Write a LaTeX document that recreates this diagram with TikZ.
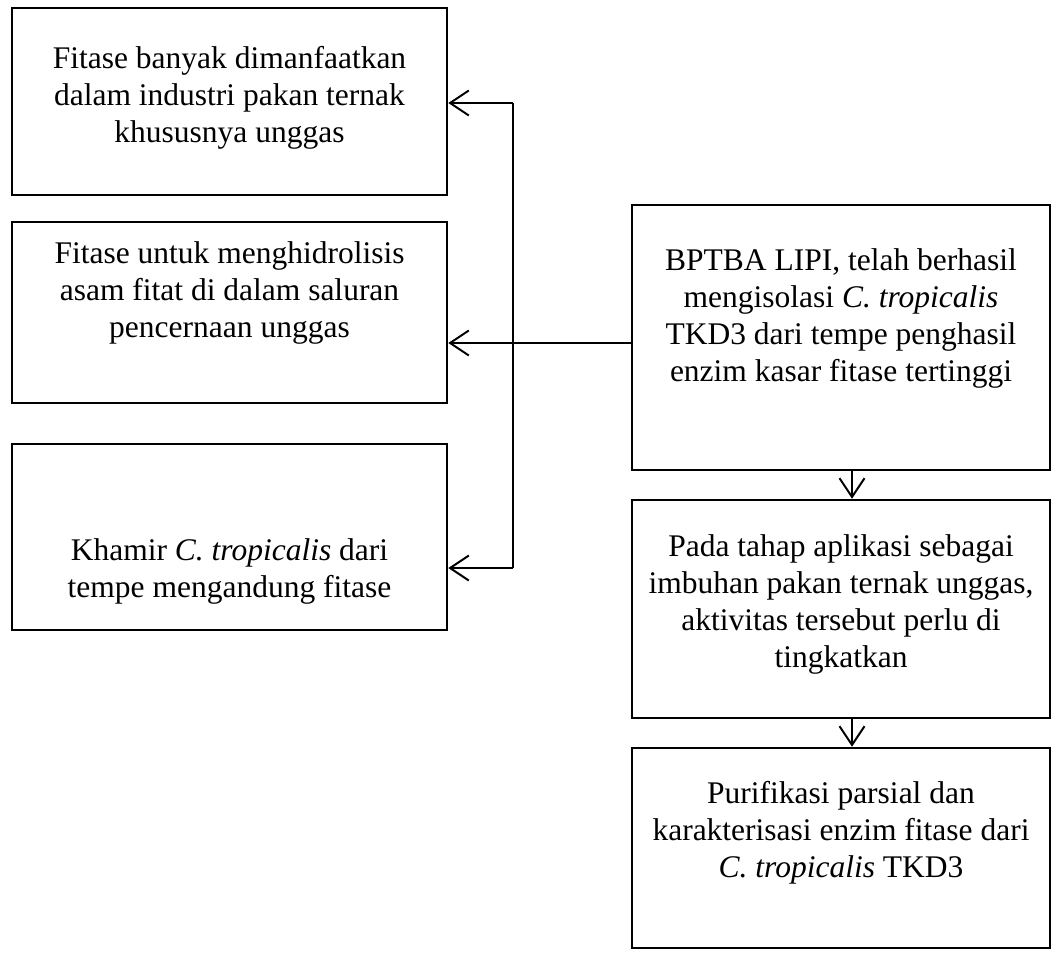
\documentclass[tikz,border=0pt]{standalone}
\usepackage{fontspec}
\setmainfont{Liberation Serif}
\usetikzlibrary{arrows.meta}
\begin{document}
\begin{tikzpicture}[x=0.4pt,y=-0.4pt,
    arr/.style={-{Straight Barb[length=7.5pt,width=10pt,line width=0.8pt]},line width=0.8pt}]
        \useasboundingbox (0,0) rectangle (1059,960);

        \begin{scope}[every node/.style={draw,line width=1pt,inner sep=0pt,minimum width=174pt}]
          \node[minimum height=74.8pt] (pakan)      at (229.5,101.5) {};
          \node[minimum height=72.4pt] (hidrolisis) at (229.5,312.5) {};
          \node[minimum height=74.4pt] (khamir)     at (229.5,537)   {};
        \end{scope}

        \begin{scope}[every node/.style={draw,line width=1pt,inner sep=0pt,minimum width=167.2pt}]
          \node[minimum height=106pt]  (bptba)      at (841,337.5) {};
          \node[minimum height=87.2pt] (aplikasi)   at (841,609)   {};
          \node[minimum height=80pt]   (purifikasi) at (841,848)   {};
        \end{scope}

        \begin{scope}[every node/.style={align=center,inner sep=0pt,font=\fontsize{12.6}{14.8}\selectfont}]
          \node (pakanText)      at (229.5,97.5) {Fitase banyak dimanfaatkan\\dalam industri pakan ternak\\khususnya unggas};
          \node (hidrolisisText) at (229.5,293)  {Fitase untuk menghidrolisis\\asam fitat di dalam saluran\\pencernaan unggas};
          \node (khamirText)     at (229.5,571) {Khamir \textit{C. tropicalis} dari\\tempe mengandung fitase};
          \node (bptbaText)      at (841,318)    {BPTBA LIPI, telah berhasil\\mengisolasi \textit{C. tropicalis}\\TKD3 dari tempe penghasil\\enzim kasar fitase tertinggi};
          \node (aplikasiText)   at (841,604)    {Pada tahap aplikasi sebagai\\imbuhan pakan ternak unggas,\\aktivitas tersebut perlu di\\tingkatkan};
          \node (purifikasiText) at (841,832.5)  {Purifikasi parsial dan\\karakterisasi enzim fitase dari\\\textit{C. tropicalis} TKD3};
        \end{scope}

        \coordinate (atas)   at (513,103);
        \coordinate (tengah) at (513,343);
        \coordinate (bawah)  at (513,568);

        \draw[line width=0.8pt] (atas) -- (bawah);
        \draw[arr] (atas) -- (atas -| pakan.east);
        \draw[arr] (bptba.west |- tengah) -- (tengah -| hidrolisis.east);
        \draw[arr] (bawah) -- (bawah -| khamir.east);

        \draw[arr] ([xshift=4.4pt]bptba.south) -- ([xshift=4.4pt]aplikasi.north);
        \draw[arr] ([xshift=4.4pt]aplikasi.south) -- ([xshift=4.4pt]purifikasi.north);

      \end{tikzpicture}
\end{document}
